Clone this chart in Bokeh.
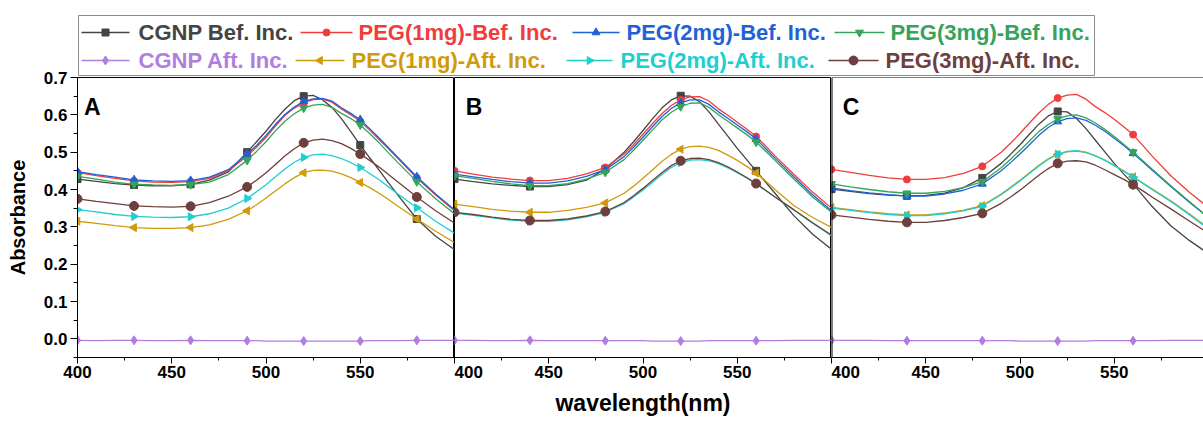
import numpy as np
from bokeh.plotting import figure
from bokeh.models import Range1d, FixedTicker, Label, Span
from bokeh.layouts import column, row
from bokeh.embed import file_html
from bokeh.resources import INLINE
from bokeh.core.properties import value

FONT = "Liberation Sans"

# ---------------- data ----------------
wavelength = [400, 410, 420, 430, 440, 450, 460, 470, 480, 490,
              495, 500, 505, 510, 515, 520, 525, 530, 535, 540, 545, 550, 555, 560, 565, 570,
              580, 590, 600]
marks_A = [400, 430, 460, 490, 520, 550, 580]
marks_BC = [400, 440, 480, 520, 560]

series_names = ["CGNP Bef. Inc.", "PEG(1mg)-Bef. Inc.", "PEG(2mg)-Bef. Inc.", "PEG(3mg)-Bef. Inc.",
                "CGNP Aft. Inc.", "PEG(1mg)-Aft. Inc.", "PEG(2mg)-Aft. Inc.", "PEG(3mg)-Aft. Inc."]

A_cgnp_bef = [.428, .422, .416, .412, .410, .410, .414, .425, .447, .500, .528, .556, .587, .615, .638, .650, .652, .640, .620, .590, .555, .519, .485, .452, .418, .385, .321, .275, .239]
A_peg1_bef = [.445, .437, .430, .423, .420, .419, .421, .430, .450, .490, .513, .540, .570, .598, .618, .632, .641, .642, .634, .616, .600, .582, .559, .534, .509, .483, .431, .385, .343]
A_peg2_bef = [.448, .440, .433, .426, .423, .422, .424, .433, .453, .495, .518, .545, .574, .601, .621, .636, .643, .644, .637, .619, .604, .587, .563, .538, .512, .486, .434, .388, .346]
A_peg3_bef = [.435, .428, .420, .414, .412, .411, .413, .420, .440, .478, .502, .528, .557, .583, .603, .618, .626, .628, .620, .604, .590, .573, .550, .525, .498, .472, .421, .375, .335]
A_cgnp_aft = [-.004, -.005, -.004, -.004, -.005, -.005, -.004, -.005, -.005, -.005, -.005, -.006, -.006, -.006, -.006, -.006, -.006, -.006, -.006, -.006, -.006, -.006, -.005, -.005, -.005, -.005, -.004, -.004, -.004]
A_peg1_aft = [.315, .309, .303, .298, .296, .296, .298, .305, .320, .343, .359, .377, .396, .415, .432, .445, .451, .452, .449, .442, .432, .419, .405, .390, .373, .355, .321, .288, .258]
A_peg2_aft = [.346, .340, .333, .328, .326, .325, .327, .335, .350, .376, .394, .413, .434, .455, .473, .486, .493, .495, .491, .483, .472, .459, .443, .426, .407, .388, .351, .315, .283]
A_peg3_aft = [.375, .368, .362, .356, .354, .353, .355, .365, .382, .407, .425, .445, .467, .490, .509, .525, .532, .535, .531, .523, .510, .495, .478, .460, .440, .420, .380, .343, .310]

B_cgnp_bef = [.428, .421, .415, .411, .408, .408, .413, .425, .455, .500, .528, .558, .589, .618, .640, .651, .650, .635, .608, .575, .543, .510, .480, .450, .420, .390, .330, .280, .240]
B_peg1_bef = [.450, .441, .433, .428, .424, .424, .430, .442, .459, .495, .520, .548, .576, .603, .625, .640, .648, .649, .637, .616, .599, .580, .562, .542, .517, .490, .441, .393, .350]
B_peg2_bef = [.441, .434, .427, .421, .417, .417, .423, .435, .453, .488, .513, .540, .568, .595, .617, .632, .640, .640, .628, .608, .591, .573, .555, .535, .510, .484, .434, .386, .343]
B_peg3_bef = [.437, .430, .422, .415, .410, .410, .416, .428, .446, .480, .505, .532, .559, .586, .607, .622, .631, .632, .620, .600, .583, .565, .547, .527, .503, .478, .428, .380, .339]
B_cgnp_aft = [-.004, -.004, -.005, -.005, -.004, -.005, -.005, -.005, -.005, -.005, -.005, -.005, -.006, -.006, -.006, -.006, -.006, -.006, -.005, -.005, -.005, -.005, -.005, -.005, -.005, -.005, -.004, -.004, -.004]
B_peg1_aft = [.361, .354, .347, .342, .339, .339, .344, .352, .364, .390, .409, .430, .452, .475, .494, .508, .515, .516, .513, .505, .492, .478, .462, .444, .423, .400, .357, .325, .298]
B_peg2_aft = [.337, .331, .324, .318, .315, .315, .319, .327, .339, .362, .380, .399, .419, .440, .459, .472, .479, .480, .477, .469, .458, .445, .431, .415, .398, .380, .345, .310, .276]
B_peg3_aft = [.339, .333, .326, .320, .317, .317, .321, .329, .341, .365, .383, .403, .424, .445, .464, .477, .483, .484, .480, .472, .461, .447, .432, .416, .398, .380, .346, .311, .278]

C_cgnp_bef = [.401, .395, .389, .385, .383, .384, .390, .405, .431, .470, .494, .520, .548, .575, .597, .609, .608, .590, .563, .532, .501, .470, .442, .415, .385, .355, .303, .263, .228]
C_peg1_bef = [.454, .446, .438, .431, .427, .427, .432, .443, .462, .500, .524, .550, .578, .605, .628, .645, .653, .655, .642, .622, .606, .588, .568, .547, .519, .490, .437, .392, .352]
C_peg2_bef = [.404, .397, .391, .386, .382, .382, .388, .398, .415, .450, .472, .495, .520, .545, .566, .582, .590, .592, .585, .572, .556, .537, .518, .497, .475, .452, .408, .365, .325]
C_peg3_bef = [.415, .407, .400, .394, .390, .390, .395, .405, .421, .458, .481, .505, .530, .555, .574, .589, .597, .600, .592, .578, .561, .542, .521, .500, .478, .455, .410, .367, .325]
C_cgnp_aft = [-.004, -.004, -.004, -.005, -.005, -.005, -.005, -.005, -.005, -.005, -.005, -.006, -.006, -.006, -.006, -.006, -.006, -.006, -.006, -.005, -.005, -.005, -.005, -.005, -.005, -.005, -.004, -.004, -.004]
C_peg1_aft = [.352, .346, .340, .335, .332, .332, .337, .345, .357, .388, .406, .425, .445, .465, .482, .494, .501, .503, .499, .490, .479, .465, .450, .434, .418, .402, .370, .334, .296]
C_peg2_aft = [.350, .344, .338, .333, .330, .330, .335, .343, .355, .386, .404, .423, .443, .463, .481, .495, .502, .504, .500, .490, .478, .464, .449, .433, .417, .400, .368, .332, .294]
C_peg3_aft = [.332, .326, .320, .315, .312, .312, .317, .325, .336, .363, .380, .398, .418, .438, .456, .470, .476, .477, .474, .465, .453, .440, .427, .413, .397, .380, .348, .315, .283]

y_ticks = [0.0, 0.1, 0.2, 0.3, 0.4, 0.5, 0.6, 0.7]
x_ticks = [400, 450, 500, 550]

# ---------------- styles ----------------
colors = ["#444444", "#f23c3c", "#1f62d8", "#35a35b", "#b07de0", "#cf9b0a", "#1ecfcf", "#6e3f3c"]
markers = ["square", "circle", "triangle", "inverted_triangle", "diamond", "triangle", "triangle", "circle"]
angles = [0, 0, 0, 0, 0, np.pi / 2, -np.pi / 2, 0]
msizes = [7, 7, 8, 8, 9, 8, 8, 9]

panels = [
    ("A", [A_cgnp_bef, A_peg1_bef, A_peg2_bef, A_peg3_bef, A_cgnp_aft, A_peg1_aft, A_peg2_aft, A_peg3_aft], marks_A),
    ("B", [B_cgnp_bef, B_peg1_bef, B_peg2_bef, B_peg3_bef, B_cgnp_aft, B_peg1_aft, B_peg2_aft, B_peg3_aft], marks_BC),
    ("C", [C_cgnp_bef, C_peg1_bef, C_peg2_bef, C_peg3_bef, C_cgnp_aft, C_peg1_aft, C_peg2_aft, C_peg3_aft], marks_BC),
]

yr = Range1d(-0.05, 0.7)
PX_PER_NM = 377 / 200.0
FIG_H = 357
TOP = 11
FRAME_H = 280
LEFT = 77
frame_widths = [377, 377, 372]


def make_panel(letter, data, marks, idx):
    left = idx == 0
    frame_w = frame_widths[idx]
    width = frame_w + (LEFT if left else 0)
    x_end = 400 + frame_w / PX_PER_NM
    p = figure(width=width, height=FIG_H, x_range=Range1d(400, x_end), y_range=yr,
               output_backend="svg", toolbar_location=None,
               y_axis_location="left" if left else None,
               min_border_left=LEFT if left else 0, min_border_right=0,
               min_border_top=TOP, min_border_bottom=FIG_H - TOP - FRAME_H)
    p.grid.visible = False
    p.background_fill_color = "white"
    p.border_fill_alpha = 0
    if idx < 2:
        p.outline_line_color = "black"
        p.outline_line_width = 1
    else:
        p.outline_line_color = None
        p.add_layout(Span(location=400, dimension="height", line_color="black", line_width=2))
        p.add_layout(Span(location=0.7, dimension="width", line_color="black", line_width=1))

    wl = np.array(wavelength)
    mask = np.isin(wl, marks)
    for k, ys in enumerate(data):
        ys = np.array(ys)
        assert len(ys) == len(wl)
        p.line(wl, ys, line_color=colors[k], line_width=1.3)
        p.scatter(wl[mask], ys[mask], marker=markers[k], angle=angles[k], size=msizes[k],
                  fill_color=colors[k], line_color=colors[k])

    ax = p.xaxis[0]
    ax.ticker = FixedTicker(ticks=x_ticks, minor_ticks=[425, 475, 525, 575])
    ax.major_label_text_font = FONT
    ax.major_label_text_font_style = "bold"
    ax.major_label_text_font_size = "17px"
    ax.major_label_text_color = "black"
    ax.major_tick_out = 6
    ax.major_tick_in = 0
    ax.minor_tick_out = 3
    ax.minor_tick_in = 0
    ax.axis_line_color = "black"
    ax.major_label_standoff = 2
    if idx == 1:
        ax.axis_label = "wavelength(nm)"
        ax.axis_label_text_font = FONT
        ax.axis_label_text_font_style = "bold"
        ax.axis_label_text_font_size = "23px"
        ax.axis_label_text_color = "black"
        ax.axis_label_standoff = 9
    if left:
        ay = p.yaxis[0]
        ay.ticker = FixedTicker(ticks=y_ticks, minor_ticks=[-0.05, 0.05, 0.15, 0.25, 0.35, 0.45, 0.55, 0.65])
        ay.major_label_overrides = {t: f"{t:.1f}" for t in y_ticks}
        ay.major_label_text_font = FONT
        ay.major_label_text_font_style = "bold"
        ay.major_label_text_font_size = "17px"
        ay.major_label_text_color = "black"
        ay.major_tick_out = 7
        ay.major_tick_in = 0
        ay.minor_tick_out = 4
        ay.minor_tick_in = 0
        ay.major_label_standoff = 3
        ay.axis_label = "Absorbance"
        ay.axis_label_text_font = FONT
        ay.axis_label_text_font_style = "bold"
        ay.axis_label_text_font_size = "20px"
        ay.axis_label_text_color = "black"
        ay.axis_label_standoff = 12
    p.add_layout(Label(x=403.5 if idx == 0 else 406, y=0.622, text=letter, text_font=FONT,
                       text_font_style="bold", text_font_size="23px", text_color="black",
                       text_baseline="alphabetic"))
    return p


figs = [make_panel(letter, data, marks, i) for i, (letter, data, marks) in enumerate(panels)]

# ---------------- legend ----------------
LW, LH = 1203, 78
leg = figure(width=LW, height=LH, x_range=Range1d(0, LW), y_range=Range1d(LH, 0),
             output_backend="svg", toolbar_location=None, min_border=0,
             x_axis_location=None, y_axis_location=None)
leg.grid.visible = False
leg.outline_line_color = None
leg.border_fill_color = "white"
leg.background_fill_color = "white"
leg.quad(left=[78], right=[1094], top=[15], bottom=[75], fill_color=None, line_color="#8c8c8c", line_width=1)

row_y = [32, 60]
leg_line = [(81, 129), (300, 352), (572, 619), (834, 884),
            (81, 129), (295, 344), (566, 612), (828, 878)]
leg_text_x = [138, 358, 626, 890, 138, 351, 620, 885]
for k in range(8):
    yy = row_y[k // 4]
    x0, x1 = leg_line[k]
    leg.line([x0, x1], [yy, yy], line_color=colors[k], line_width=1.3)
    leg.scatter([(x0 + x1) / 2], [yy], marker=markers[k], angle=angles[k], size=msizes[k],
                fill_color=colors[k], line_color=colors[k])
    leg.text([leg_text_x[k]], [yy], text=[series_names[k]], text_font=value(FONT),
             text_font_style="bold", text_font_size="22px", text_color=colors[k],
             text_baseline="middle", text_align="left")

panel_row = row(*figs, margin=(-12, 0, 0, 0))
layout = column(leg, panel_row)
open("out.html", "w").write(file_html(layout, INLINE))
